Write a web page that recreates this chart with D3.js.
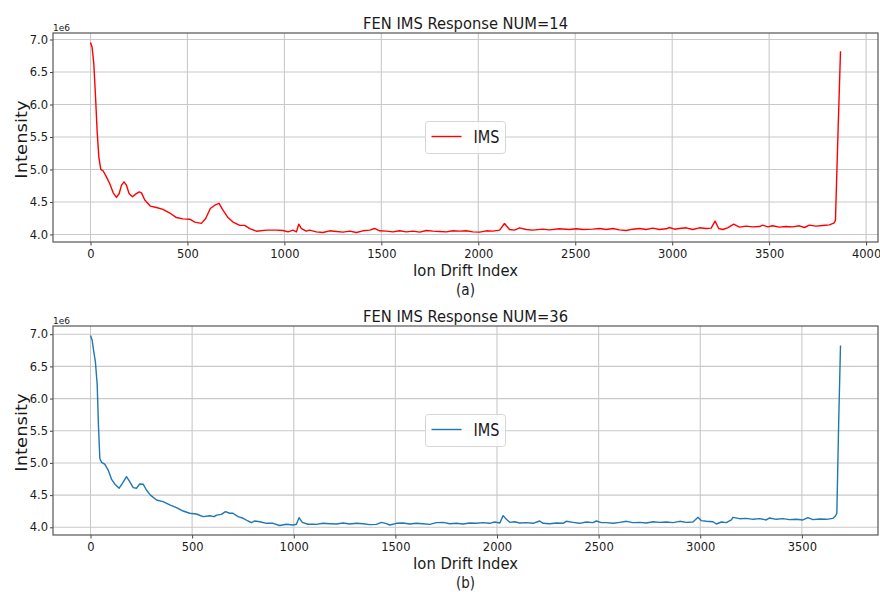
<!DOCTYPE html>
<html>
<head>
<meta charset="utf-8">
<script src="https://cdn.jsdelivr.net/npm/d3@7"></script>
<style>
  body { margin: 0; background: #fff; }
  text { font-family: "DejaVu Sans", sans-serif; fill: #1a1a1a; }
</style>
</head>
<body>
<div id="chart"></div>
<script>
// values (intensity in units of 1e6)
const driftA = [0,8,17,26,34,43,53,65,82,99,117,134,148,160,173,185,199,216,233,251,263,280,309,340,374,409,443,477,512,538,572,594,618,641,663,684,709,735,770,795,821,856,907,959,993,1019,1044,1062,1074,1088,1113,
  1130,1165,1199,1234,1268,1302,1337,1371,1405,1440,1465,1491,1526,1560,1594,1629,1663,1698,1732,1766,1801,1835,1869,1904,1938,1972,2007,2041,2075,2110,2135,2161,2187,2213,2247,2281,2333,2367,2418,2470,2505,2539,2590,
  2625,2660,2694,2728,2763,2797,2831,2866,2900,2934,2969,2986,3012,3037,3072,3106,3141,3175,3201,3221,3240,3261,3286,3317,3347,3381,3415,3450,3467,3493,3518,3553,3587,3621,3656,3682,3707,3742,3776,3811,3836,3842,3855,3868];
const intensityA = [6.954,6.886,6.63,6.12,5.60,5.19,5.00,4.98,4.886,4.785,4.64,4.57,4.63,4.76,4.81,4.76,4.63,4.58,4.62,4.655,4.64,4.53,4.435,4.415,4.385,4.33,4.26,4.24,4.235,4.19,4.17,4.245,4.40,4.45,4.477,4.37,4.26,4.19,4.14,4.14,4.09,4.05,4.066,4.066,4.06,4.04,4.066,4.04,4.158,4.09,4.05,
  4.066,4.040,4.030,4.056,4.046,4.035,4.051,4.030,4.056,4.066,4.092,4.056,4.051,4.040,4.056,4.040,4.051,4.035,4.061,4.051,4.046,4.040,4.056,4.051,4.056,4.040,4.035,4.056,4.051,4.066,4.169,4.076,4.066,4.102,4.076,4.066,4.082,4.071,4.087,4.076,4.087,4.076,4.082,
  4.092,4.076,4.092,4.071,4.061,4.081,4.092,4.076,4.097,4.076,4.087,4.107,4.081,4.092,4.102,4.076,4.102,4.092,4.097,4.205,4.092,4.076,4.102,4.158,4.112,4.128,4.117,4.122,4.143,4.117,4.133,4.112,4.122,4.117,4.133,4.107,4.143,4.128,4.138,4.148,4.179,4.22,5.55,6.82];

const driftB = [0,8,16,24,33,39,46,54,70,87,103,120,141,157,177,193,210,226,242,259,275,295,325,357,390,423,456,488,521,554,587,608,620,644,664,685,701,726,751,775,792,808,833,866,898,931,964,997,1013,1026,1042,1070,1095,
  1111,1144,1177,1210,1243,1275,1308,1341,1374,1407,1431,1456,1472,1505,1538,1571,1603,1636,1669,1702,1735,1767,1800,1833,1866,1899,1931,1964,1989,2014,2030,2046,2063,2087,2112,2145,2177,2210,2227,2259,2292,2325,2341,2374,2407,2439,2472,2489,2513,
  2538,2571,2604,2637,2669,2702,2735,2768,2800,2833,2866,2899,2931,2964,2989,3005,3030,3063,3079,3104,3128,3153,3161,3194,3227,3259,3292,3325,3341,3374,3407,3439,3472,3505,3530,3554,3587,3620,3653,3665,3672,3681,3690];
const intensityB = [6.98,6.91,6.73,6.575,6.21,5.59,5.07,5.01,4.98,4.89,4.75,4.67,4.607,4.684,4.787,4.71,4.616,4.607,4.673,4.67,4.58,4.50,4.425,4.40,4.347,4.305,4.253,4.218,4.207,4.165,4.18,4.165,4.19,4.20,4.243,4.218,4.218,4.165,4.14,4.098,4.072,4.098,4.087,4.062,4.062,4.028,4.047,4.036,4.047,4.15,4.077,4.047,4.05,
  4.046,4.062,4.056,4.051,4.067,4.051,4.062,4.056,4.041,4.046,4.077,4.056,4.036,4.062,4.067,4.051,4.062,4.056,4.046,4.072,4.077,4.056,4.062,4.051,4.067,4.062,4.072,4.062,4.082,4.067,4.181,4.124,4.077,4.087,4.067,4.072,4.062,4.098,4.062,4.056,4.067,4.062,4.093,4.077,4.062,4.082,4.072,4.098,4.072,
  4.072,4.062,4.077,4.093,4.072,4.077,4.067,4.087,4.077,4.082,4.072,4.093,4.077,4.082,4.155,4.103,4.093,4.087,4.051,4.082,4.072,4.114,4.155,4.134,4.139,4.124,4.134,4.114,4.145,4.124,4.134,4.119,4.124,4.114,4.150,4.119,4.129,4.124,4.139,4.176,4.22,5.62,6.824];

const xTicksA = [0,500,1000,1500,2000,2500,3000,3500,4000];
const xTicksB = [0,500,1000,1500,2000,2500,3000,3500];
const yTicks = [4.0,4.5,5.0,5.5,6.0,6.5,7.0];

const W = 880, H = 592;
const svg = d3.select('#chart').append('svg').attr('width', W).attr('height', H);

const panels = [
  { title: 'FEN IMS Response NUM=14', sub: '(a)', top: 33, bottom: 242, color: '#ff0000',
    xs: driftA, ys: intensityA, xticks: xTicksA },
  { title: 'FEN IMS Response NUM=36', sub: '(b)', top: 326, bottom: 535, color: '#1f77b4',
    xs: driftB, ys: intensityB, xticks: xTicksB }
];

const left = 53, right = 878;

panels.forEach(drawPanel);

function drawPanel(p) {
  const data = p.xs.map((d, i) => [d, p.ys[i]]);
  // matplotlib-style 5% margins
  const xmax = d3.max(p.xs), ymin = d3.min(p.ys), ymax = d3.max(p.ys);
  const x = d3.scaleLinear().domain([-0.05 * xmax, 1.05 * xmax]).range([left, right]);
  const yr = ymax - ymin;
  const y = d3.scaleLinear().domain([ymin - 0.05 * yr, ymax + 0.05 * yr]).range([p.bottom, p.top]);

  const g = svg.append('g');

  // grid
  g.append('g').selectAll('line').data(p.xticks).join('line')
    .attr('x1', d => x(d)).attr('x2', d => x(d))
    .attr('y1', p.top).attr('y2', p.bottom)
    .attr('stroke', '#c9c9c9').attr('stroke-width', 1.1);
  g.append('g').selectAll('line').data(yTicks).join('line')
    .attr('x1', left).attr('x2', right)
    .attr('y1', d => y(d)).attr('y2', d => y(d))
    .attr('stroke', '#c9c9c9').attr('stroke-width', 1.1);

  // line
  g.append('path').datum(data)
    .attr('fill', 'none').attr('stroke', p.color).attr('stroke-width', 1.4)
    .attr('stroke-linejoin', 'round')
    .attr('d', d3.line().x(d => x(d[0])).y(d => y(d[1])));

  // axes
  const xAxis = g.append('g').attr('transform', `translate(0,${p.bottom})`)
    .call(d3.axisBottom(x).tickValues(p.xticks).tickFormat(d3.format('d')).tickSizeInner(3.5).tickSizeOuter(0).tickPadding(4));
  const yAxis = g.append('g').attr('transform', `translate(${left},0)`)
    .call(d3.axisLeft(y).tickValues(yTicks).tickFormat(d3.format('.1f')).tickSizeInner(3).tickSizeOuter(0).tickPadding(2));
  [xAxis, yAxis].forEach(a => {
    a.select('.domain').remove();
    a.selectAll('line').attr('stroke', '#444');
    a.selectAll('text').attr('font-size', 11.5).attr('font-family', '"DejaVu Sans", sans-serif').attr('fill', '#222');
  });

  // frame
  g.append('rect').attr('x', left).attr('y', p.top)
    .attr('width', right - left).attr('height', p.bottom - p.top)
    .attr('fill', 'none').attr('stroke', '#555').attr('stroke-width', 1.2);

  // offset text
  g.append('text').attr('x', left).attr('y', p.top - 2.5)
    .attr('font-size', 9).text('1e6');

  const cx = (left + right) / 2, cy = (p.top + p.bottom) / 2;

  // title
  g.append('text').attr('x', cx).attr('y', p.top - 4.5)
    .attr('text-anchor', 'middle').attr('font-size', 16)
    .attr('textLength', 205).attr('lengthAdjust', 'spacingAndGlyphs')
    .text(p.title);

  // axis labels
  g.append('text').attr('x', cx).attr('y', p.bottom + 34.2)
    .attr('text-anchor', 'middle').attr('font-size', 16)
    .attr('textLength', 105).attr('lengthAdjust', 'spacingAndGlyphs')
    .text('Ion Drift Index');
  g.append('text').attr('x', cx).attr('y', p.bottom + 53)
    .attr('text-anchor', 'middle').attr('font-size', 16)
    .attr('textLength', 19).attr('lengthAdjust', 'spacingAndGlyphs')
    .text(p.sub);
  g.append('text')
    .attr('transform', `translate(26.5,${cy + 2}) scale(0.85,1) rotate(-90)`)
    .attr('text-anchor', 'middle').attr('font-size', 18)
    .text('Intensity');

  // legend
  const lg = g.append('g').attr('transform', `translate(${cx},${cy})`);
  lg.append('rect').attr('x', -40).attr('y', -16).attr('width', 80).attr('height', 32)
    .attr('rx', 3).attr('fill', '#fff').attr('fill-opacity', 0.8)
    .attr('stroke', '#d6d6d6').attr('stroke-width', 1);
  lg.append('line').attr('x1', -34).attr('x2', -4).attr('y1', -1).attr('y2', -1)
    .attr('stroke', p.color).attr('stroke-width', 1.4);
  lg.append('text').attr('x', 8).attr('y', 5.3).attr('font-size', 17.4)
    .attr('textLength', 26).attr('lengthAdjust', 'spacingAndGlyphs')
    .text('IMS');
}
</script>
</body>
</html>
